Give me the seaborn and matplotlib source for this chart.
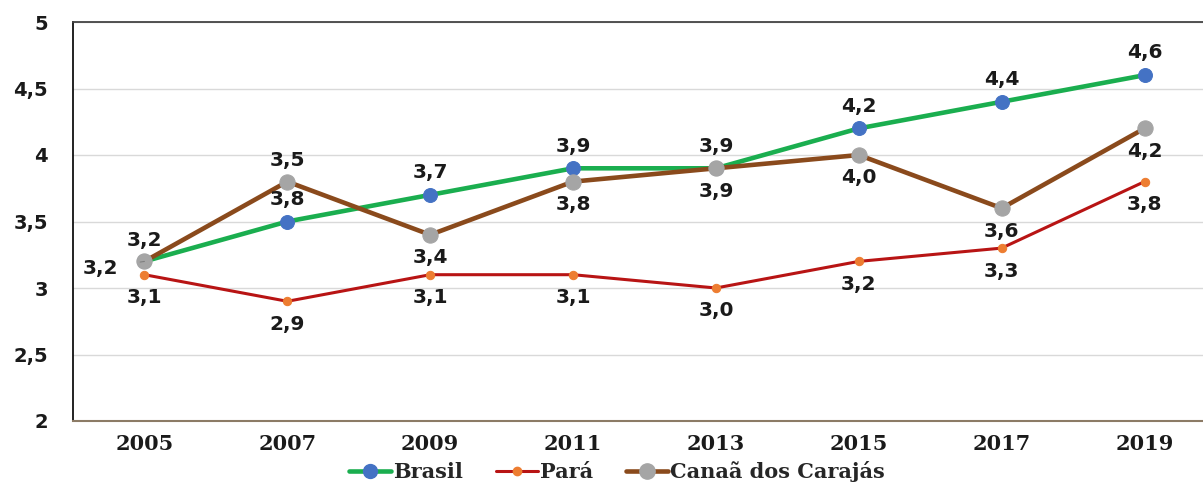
import matplotlib
matplotlib.use("Agg")
import matplotlib.pyplot as plt
import seaborn as sns
import pandas as pd
from matplotlib.lines import Line2D

years = ["2005", "2007", "2009", "2011", "2013", "2015", "2017", "2019"]
brasil = [3.2, 3.5, 3.7, 3.9, 3.9, 4.2, 4.4, 4.6]
para = [3.1, 2.9, 3.1, 3.1, 3.0, 3.2, 3.3, 3.8]
canaa = [3.2, 3.8, 3.4, 3.8, 3.9, 4.0, 3.6, 4.2]

brasil_labels = ["3,2", "3,8", "3,7", "3,9", "3,9", "4,2", "4,4", "4,6"]
para_labels = ["3,1", "2,9", "3,1", "3,1", "3,0", "3,2", "3,3", "3,8"]
canaa_labels = ["3,2", "3,5", "3,4", "3,8", "3,9", "4,0", "3,6", "4,2"]
yticks = [2, 2.5, 3, 3.5, 4, 4.5, 5]
ytick_labels = ["2", "2,5", "3", "3,5", "4", "4,5", "5"]

sns.set_theme(style="white")
plt.rcParams['font.family'] = ['DejaVu Sans']

fig = plt.figure(figsize=(12.03, 4.84), dpi=100)
ax = fig.add_axes([73/1203, 63/484, (1216-73)/1203, (421-22)/484])

df = pd.DataFrame({"x": list(range(len(years))) * 3,
                   "y": brasil + para + canaa,
                   "serie": ["Brasil"] * 8 + ["Pará"] * 8 + ["Canaã dos Carajás"] * 8})

styles = {
    "Brasil": dict(lc="#1aae4f", mc="#4472c4", lw=3.3, ms=10, z=3),
    "Pará": dict(lc="#b81414", mc="#ed7d31", lw=2.2, ms=6, z=3),
    "Canaã dos Carajás": dict(lc="#8a4a1c", mc="#a5a5a5", lw=3.3, ms=11, z=4),
}
order = ["Brasil", "Pará", "Canaã dos Carajás"]
for name in ["Pará", "Brasil", "Canaã dos Carajás"]:
    s = styles[name]
    sub = df[df.serie == name]
    sns.lineplot(data=sub, x="x", y="y", ax=ax, color=s["lc"], lw=s["lw"],
                 marker="o", markersize=s["ms"], markerfacecolor=s["mc"],
                 markeredgecolor=s["mc"], zorder=s["z"], legend=False)

lab_font = dict(fontsize=14.5, fontweight="bold", color="#1a1a1a", ha="center", va="center",
                family="DejaVu Sans", zorder=6)
for i in range(len(years)):
    # Brasil
    if i == 0:
        ax.annotate(brasil_labels[i], (i, brasil[i]), xytext=(-32, -5), textcoords="offset points",
                    arrowprops=dict(arrowstyle="-", color="#7f7f7f", lw=0.8, shrinkA=14, shrinkB=6),
                    **lab_font)
    else:
        ax.annotate(brasil_labels[i], (i, brasil[i]), xytext=(0, 16), textcoords="offset points", **lab_font)
    # Canaa
    if i in (0, 1):
        ax.annotate(canaa_labels[i], (i, canaa[i]), xytext=(0, 15), textcoords="offset points", **lab_font)
    else:
        ax.annotate(canaa_labels[i], (i, canaa[i]), xytext=(0, -16.5), textcoords="offset points", **lab_font)
    # Para
    ax.annotate(para_labels[i], (i, para[i]), xytext=(0, -16.5), textcoords="offset points", **lab_font)

ax.set_xlim(-0.5, 7.5)
ax.set_ylim(2, 5)
ax.set_yticks(yticks)
ax.set_yticklabels(ytick_labels, fontsize=14, fontweight="bold", family="DejaVu Sans", color="#1a1a1a")
ax.set_xticks(range(len(years)))
ax.set_xticklabels(years, fontsize=15, fontweight="bold", family="DejaVu Serif", color="#1a1a1a")
ax.tick_params(axis="y", pad=18, length=0)
ax.tick_params(axis="x", pad=9, length=0)
ax.set_xlabel("")
ax.set_ylabel("")
ax.grid(axis="y", color="#d9d9d9", lw=1)
ax.set_axisbelow(True)
ax.spines["left"].set_color("#111111")
ax.spines["left"].set_linewidth(1.3)
ax.spines["top"].set_color("#444444")
ax.spines["top"].set_linewidth(1.3)
ax.spines["bottom"].set_color("#8c7b66")
ax.spines["bottom"].set_linewidth(1.5)
ax.spines["right"].set_visible(False)

handles = [Line2D([0], [0], color=styles[n]["lc"], lw=styles[n]["lw"], marker="o",
                  markersize=styles[n]["ms"], markerfacecolor=styles[n]["mc"],
                  markeredgecolor=styles[n]["mc"]) for n in order]
fig.legend(handles, order, loc="center", bbox_to_anchor=(617/1203, 1 - 472/484), ncol=3,
           frameon=False, prop=dict(family="DejaVu Serif", weight="bold", size=15),
           handlelength=2.0, handletextpad=0.1, columnspacing=1.6)

fig.savefig("out.png", dpi=100)
